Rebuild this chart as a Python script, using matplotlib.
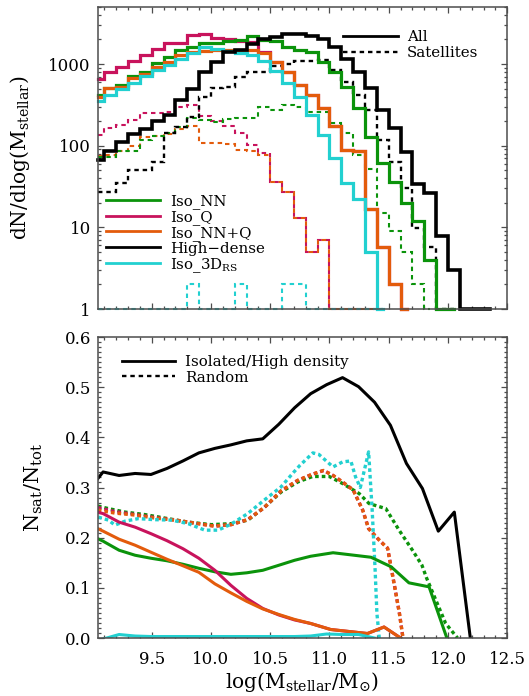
import numpy as np
import matplotlib
matplotlib.use("Agg")
import matplotlib.pyplot as plt
from matplotlib.ticker import FixedLocator, LogLocator, NullFormatter, MultipleLocator, FormatStrFormatter

plt.rcParams['font.family'] = ['DejaVu Serif']
plt.rcParams['mathtext.fontset'] = 'dejavuserif'
plt.rcParams['lines.scale_dashes'] = False

# ---------------- data : top panel (histograms, 0.1 dex bins) ----------------
bin_centers = [9.05, 9.15, 9.25, 9.35, 9.45, 9.55, 9.65, 9.75, 9.85, 9.95,
               10.05, 10.15, 10.25, 10.35, 10.45, 10.55, 10.65, 10.75, 10.85, 10.95,
               11.05, 11.15, 11.25, 11.35, 11.45, 11.55, 11.65, 11.75, 11.85, 11.95,
               12.05, 12.15, 12.25, 12.35]

hd_all = [66, 85, 112, 138, 160, 200, 240, 360, 500, 800, 1070, 1400, 1500, 1750, 2000,
          2150, 2350, 2350, 2200, 2050, 1600, 1160, 800, 510, 275, 165, 84, 34, 26, 7.8,
          3, 0, 0, 0]
hd_sat = [27, 27, 35, 50, 50, 64, 144, 170, 225, 395, 510, 525, 700, 800, 800, 950, 1000,
          1090, 1100, 1130, 850, 610, 420, 275, 118, 64, 30, 9.7, 5.8, 0, 0]
nn_all = [420, 505, 556, 704, 807, 1026, 1210, 1490, 1630, 1800, 1830, 1930, 1970, 2180,
          1950, 1900, 1630, 1490, 1400, 1070, 810, 530, 290, 128, 61, 36, 20, 12, 4, 0, 0]
nn_sat = [73, 73, 85, 85, 118, 132, 142, 171, 217, 208, 197, 211, 218, 218, 300, 275, 315,
          300, 262, 262, 192, 142, 77, 52, 15, 9, 5, 2, 0]
q_all = [653, 810, 930, 1095, 1290, 1520, 1830, 1830, 2280, 2340, 2100, 2050, 1900, 1850,
         1420, 1070, 810, 556, 420, 288, 175, 89, 85, 17, 5.8, 2, 0]
q_sat = [135, 165, 180, 208, 250, 250, 258, 300, 316, 230, 200, 175, 145, 102, 82, 36, 27,
         13, 5, 7, 0, 0, 0, 0, 0]
nnq_all = [400, 505, 530, 670, 760, 930, 1070, 1290, 1420, 1450, 1490, 1470, 1490, 1490,
           1350, 1070, 810, 556, 420, 288, 175, 89, 85, 17, 5.8, 2, 0]
nnq_sat = [75, 78, 85, 100, 128, 130, 140, 160, 175, 107, 107, 105, 89, 87, 77, 36, 27, 13,
           5, 7, 0, 0, 0, 0, 0]
rs_all = [350, 420, 495, 580, 716, 850, 980, 1150, 1350, 1630, 1520, 1460, 1380, 1290, 1100,
          820, 580, 400, 239, 135, 70, 35, 22, 5, 0]
rs_sat = [0, 0, 0, 0, 0, 0, 0, 0, 2, 0, 0, 0, 2, 0, 0, 0, 2, 2, 0, 0, 0, 0, 0, 0, 0]

# ---------------- data : bottom panel (satellite fractions) ----------------
grid_x = [8.955, 9.09, 9.225, 9.36, 9.494, 9.629, 9.764, 9.898, 10.033, 10.168, 10.302,
          10.437, 10.572, 10.706, 10.841, 10.976, 11.11, 11.245, 11.38, 11.514, 11.649,
          11.784, 11.918, 12.053, 12.188]
hd_frac = [0.291, 0.331, 0.324, 0.328, 0.326, 0.338, 0.353, 0.369, 0.378, 0.385, 0.393,
           0.397, 0.426, 0.459, 0.487, 0.505, 0.519, 0.501, 0.470, 0.424, 0.348, 0.298,
           0.213, 0.251, 0.0]

nn_x = [8.955, 9.09, 9.225, 9.36, 9.494, 9.629, 9.764, 9.898, 10.033, 10.168, 10.302,
        10.437, 10.572, 10.706, 10.841, 11.03, 11.35, 11.52, 11.67, 11.84, 11.99]
nn_frac = [0.208, 0.193, 0.175, 0.165, 0.159, 0.154, 0.147, 0.139, 0.132, 0.127, 0.130,
           0.135, 0.145, 0.155, 0.163, 0.170, 0.161, 0.142, 0.110, 0.102, 0.0]

q_x = [8.955, 9.09, 9.225, 9.36, 9.494, 9.629, 9.764, 9.898, 10.033, 10.168, 10.302,
       10.437, 10.572, 10.706, 10.841, 11.01, 11.32, 11.46, 11.60]
q_frac = [0.257, 0.248, 0.231, 0.221, 0.208, 0.194, 0.178, 0.159, 0.135, 0.105, 0.079,
          0.059, 0.046, 0.036, 0.029, 0.017, 0.009, 0.022, 0.0]
nnq_frac = [0.228, 0.213, 0.197, 0.185, 0.171, 0.157, 0.144, 0.131, 0.108, 0.090, 0.073,
            0.058, 0.047, 0.037, 0.029, 0.017, 0.009, 0.022, 0.0]

rs_x = [9.09, 9.225, 9.36, 9.494, 9.629, 9.764, 9.898, 10.033, 10.168, 10.302, 10.437,
        10.572, 10.706, 10.841, 10.976, 11.11, 11.245, 11.38]
rs_frac = [-0.002, 0.007, 0.004, 0.003, 0.003, 0.003, 0.003, 0.003, 0.003, 0.003, 0.003,
           0.003, 0.003, 0.004, 0.008, 0.007, 0.007, 0.0]

# random samples
nn_rand_x = [9.046, 9.135, 9.276, 9.444, 9.612, 9.808, 10.004, 10.172, 10.312, 10.452,
             10.592, 10.732, 10.858, 10.998, 11.11, 11.25, 11.334, 11.475, 11.587, 11.70,
             11.78, 11.82, 11.98, 12.08]
nn_rand = [0.263, 0.258, 0.251, 0.246, 0.239, 0.231, 0.226, 0.228, 0.235, 0.261, 0.291,
           0.311, 0.322, 0.322, 0.308, 0.288, 0.268, 0.258, 0.215, 0.175, 0.145, 0.119,
           0.029, 0.0]
nnq_rand_x = [9.046, 9.19, 9.36, 9.53, 9.70, 9.864, 10.03, 10.17, 10.31, 10.45, 10.59,
              10.73, 10.85, 10.95, 11.03, 11.11, 11.20, 11.28, 11.33, 11.42, 11.49, 11.55,
              11.59, 11.62]
q_rand = [0.260, 0.252, 0.246, 0.240, 0.235, 0.229, 0.223, 0.226, 0.236, 0.260, 0.293,
          0.314, 0.326, 0.334, 0.324, 0.311, 0.295, 0.255, 0.218, 0.195, 0.179, 0.102,
          0.049, 0.0]
nnq_rand = [0.255, 0.249, 0.245, 0.239, 0.235, 0.229, 0.223, 0.226, 0.236, 0.260, 0.293,
            0.314, 0.326, 0.334, 0.324, 0.311, 0.295, 0.255, 0.218, 0.195, 0.179, 0.102,
            0.049, 0.0]
rs_rand_x = [9.05, 9.135, 9.19, 9.276, 9.388, 9.514, 9.668, 9.808, 9.948, 10.06, 10.17,
             10.31, 10.45, 10.59, 10.70, 10.75, 10.86, 10.91, 11.03, 11.11, 11.18, 11.22,
             11.26, 11.33, 11.36, 11.385, 11.40, 11.42]
rs_rand = [0.241, 0.235, 0.225, 0.233, 0.238, 0.236, 0.235, 0.228, 0.215, 0.215, 0.227,
           0.248, 0.275, 0.301, 0.331, 0.344, 0.369, 0.366, 0.341, 0.351, 0.353, 0.321,
           0.300, 0.371, 0.255, 0.135, 0.049, 0.0]

labels_samples = ['Iso_NN', 'Iso_Q', 'Iso_NN+Q', 'High\u2212dense', 'Iso_3D$_{\\rm RS}$']
labels_kind = ['All', 'Satellites']
labels_frac = ['Isolated/High density', 'Random']

C_NN = '#0b930b'
C_Q = '#c8135c'
C_NNQ = '#e35b0c'
C_HD = '#000000'
C_RS = '#22d0d0'

DASH = (0, (3.2, 2.8))
DOT = (0, (2.6, 2.2))
LEG_FS = 10.8

fig = plt.figure(figsize=(5.29, 6.96), dpi=100)
ax1 = fig.add_axes([0.185, 0.556, 0.774, 0.434])
ax2 = fig.add_axes([0.185, 0.0833, 0.774, 0.4325])


def key(ax, x0, x1, xt, y, label, color, lw, ls='-', fs=LEG_FS):
    """legend entry drawn in axes coordinates"""
    ax.plot([x0, x1], [y, y], transform=ax.transAxes, color=color, lw=lw, ls=ls,
            clip_on=False)
    ax.text(xt, y, label, transform=ax.transAxes, fontsize=fs, va='center_baseline',
            ha='left')


# ---------------- top panel ----------------
def hist(ax, vals, color, lw, ls='-', z=2):
    x = np.array(bin_centers[:len(vals)])
    y = np.maximum(np.array(vals, dtype=float), 1.0)
    ax.step(x, y, where='mid', color=color, lw=lw, ls=ls, zorder=z, clip_on=False,
            solid_joinstyle='miter', dash_joinstyle='miter')


hist(ax1, q_sat, C_Q, 1.5, DASH)
hist(ax1, nnq_sat, C_NNQ, 1.5, DASH)
hist(ax1, nn_sat, C_NN, 1.5, DASH)
hist(ax1, rs_sat, C_RS, 1.5, DASH)
hist(ax1, hd_sat, C_HD, 1.7, DASH)
hist(ax1, q_all, C_Q, 2.3)
hist(ax1, nn_all, C_NN, 2.3)
hist(ax1, nnq_all, C_NNQ, 2.3)
hist(ax1, rs_all, C_RS, 2.3)
hist(ax1, hd_all, C_HD, 2.6)

ax1.set_yscale('log')
ax1.set_xlim(9.046, 12.5)
ax1.set_ylim(1, 5000)
ax1.yaxis.set_major_locator(FixedLocator([1, 10, 100, 1000]))
ax1.set_yticklabels(['1', '10', '100', '1000'])
ax1.yaxis.set_minor_locator(LogLocator(base=10, subs=np.arange(2, 10)))
ax1.yaxis.set_minor_formatter(NullFormatter())
ax1.xaxis.set_major_locator(MultipleLocator(0.5))
ax1.xaxis.set_minor_locator(MultipleLocator(0.1))
ax1.tick_params(labelbottom=False)
ax1.set_ylabel('dN/dlog(M$_{\\rm stellar}$)', fontsize=14.5)
ax1.yaxis.set_label_coords(-0.162, 0.5)

key(ax1, 0.598, 0.733, 0.755, 0.904, labels_kind[0], 'k', 2.0)
key(ax1, 0.598, 0.733, 0.755, 0.852, labels_kind[1], 'k', 1.7, DASH)
cols = [C_NN, C_Q, C_NNQ, C_HD, C_RS]
rows = [0.361, 0.309, 0.257, 0.205, 0.153]
for c, lab, yy in zip(cols, labels_samples, rows):
    key(ax1, 0.0195, 0.151, 0.176, yy, lab, c, 2.0)

# ---------------- bottom panel ----------------
kw = dict(solid_joinstyle='round')
ax2.plot(nn_rand_x, nn_rand, color=C_NN, lw=2.4, ls=DOT)
ax2.plot(nnq_rand_x, q_rand, color=C_Q, lw=2.4, ls=DOT)
ax2.plot(nnq_rand_x, nnq_rand, color=C_NNQ, lw=2.4, ls=DOT)
ax2.plot(rs_rand_x, rs_rand, color=C_RS, lw=2.4, ls=DOT)
ax2.plot(nn_x, nn_frac, color=C_NN, lw=2.2, **kw)
ax2.plot(q_x, q_frac, color=C_Q, lw=2.2, **kw)
ax2.plot(q_x, nnq_frac, color=C_NNQ, lw=2.2, **kw)
ax2.plot(rs_x, rs_frac, color=C_RS, lw=2.2, **kw)
ax2.plot(grid_x, hd_frac, color=C_HD, lw=2.2, **kw)

ax2.set_xlim(9.046, 12.5)
ax2.set_ylim(0.0, 0.6)
ax2.xaxis.set_major_locator(MultipleLocator(0.5))
ax2.xaxis.set_minor_locator(MultipleLocator(0.1))
ax2.xaxis.set_major_formatter(FormatStrFormatter('%.1f'))
ax2.yaxis.set_major_locator(MultipleLocator(0.1))
ax2.yaxis.set_minor_locator(MultipleLocator(0.01))
ax2.yaxis.set_major_formatter(FormatStrFormatter('%.1f'))
ax2.set_xlabel('log(M$_{\\rm stellar}$/M$_{\\odot}$)', fontsize=14.5, labelpad=2)
ax2.set_ylabel('N$_{\\rm sat}$/N$_{\\rm tot}$', fontsize=15)
ax2.yaxis.set_label_coords(-0.129, 0.5)

key(ax2, 0.058, 0.188, 0.2125, 0.921, labels_frac[0], 'k', 2.0)
key(ax2, 0.058, 0.188, 0.2125, 0.870, labels_frac[1], 'k', 1.7, DASH)

for ax in (ax1, ax2):
    ax.tick_params(which='both', direction='in', top=True, right=True, labelsize=12,
                   color='0.3', width=0.9)
    ax.tick_params(which='major', length=4.6)
    ax.tick_params(which='minor', length=2.4)
    ax.tick_params(axis='x', pad=9)
    ax.tick_params(axis='y', pad=5)
    for s in ax.spines.values():
        s.set_color('0.3')
        s.set_linewidth(1.1)

fig.savefig('out.png', dpi=100)
